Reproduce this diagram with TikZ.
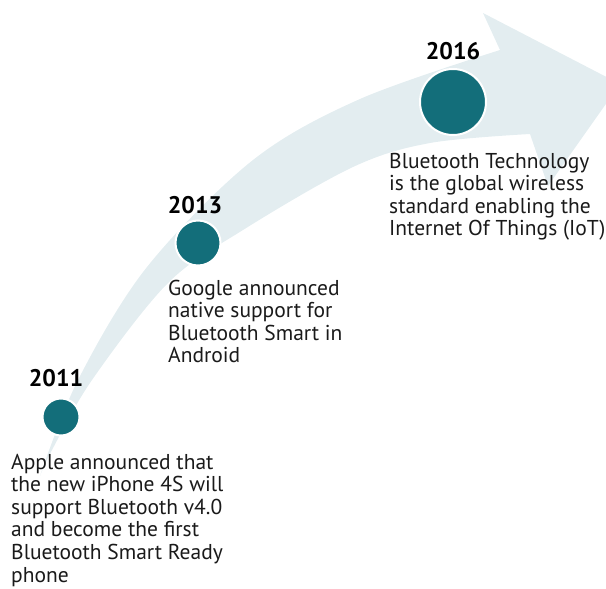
\documentclass[tikz,border=0pt]{standalone}
\usepackage{fontspec}
\setmainfont{PT Sans}
\definecolor{dotteal}{HTML}{136E7A}
\definecolor{arrowlight}{HTML}{E3EDF0}
\definecolor{bodytext}{HTML}{1A1A1A}
\tikzset{
  milestone/.style={circle, fill=dotteal, draw=white, line width=2pt, inner sep=0pt},
  yearlabel/.style={anchor=base, inner sep=0pt, font=\fontsize{24}{28}\selectfont\bfseries, text=black},
  bodylabel/.style={anchor=base west, inner sep=0pt, font=\fontsize{21.5}{22.6}\selectfont, text=bodytext},
}
\newcommand{\bodylines}[1]{\renewcommand{\arraystretch}{1}\begin{tabular}[t]{@{}l@{}}#1\end{tabular}}
\begin{document}
\begin{tikzpicture}[x=1pt,y=-1pt]
\useasboundingbox (0,0) rectangle (606,589);
\begin{scope}
\clip (0,0) rectangle (606,589);
\fill[arrowlight] plot[smooth, tension=0.55] coordinates {(40,476) (78,380) (147,267) (253,160) (360,99) (500,50)}
  -- (483,13) -- (620,84) -- (548,186) --
  plot[smooth, tension=0.55] coordinates {(530,134) (430,143) (353,167) (243,230) (168,283) (92,380) (52,450) (40,476)} -- cycle;
\end{scope}
\node[milestone, minimum size=37pt] (d2011) at (61,417) {};
\node[milestone, minimum size=45pt] (d2013) at (198,243) {};
\node[milestone, minimum size=66pt] (d2016) at (453,102) {};
\node[yearlabel] (y2011) at (56,386) {2011};
\node[yearlabel] (y2013) at (195,213) {2013};
\node[yearlabel] (y2016) at (453,59) {2016};
\node[bodylabel] (t2011) at (11,469) {\bodylines{Apple announced that\\the new iPhone 4S will\\support Bluetooth v4.0\\and become the first\\Bluetooth Smart Ready\\phone}};
\node[bodylabel] (t2013) at (168,295) {\bodylines{Google announced\\native support for\\Bluetooth Smart in\\Android}};
\node[bodylabel] (t2016) at (389,168) {\bodylines{Bluetooth Technology\\is the global wireless\\standard enabling the\\Internet Of Things (IoT)}};
\end{tikzpicture}
\end{document}
